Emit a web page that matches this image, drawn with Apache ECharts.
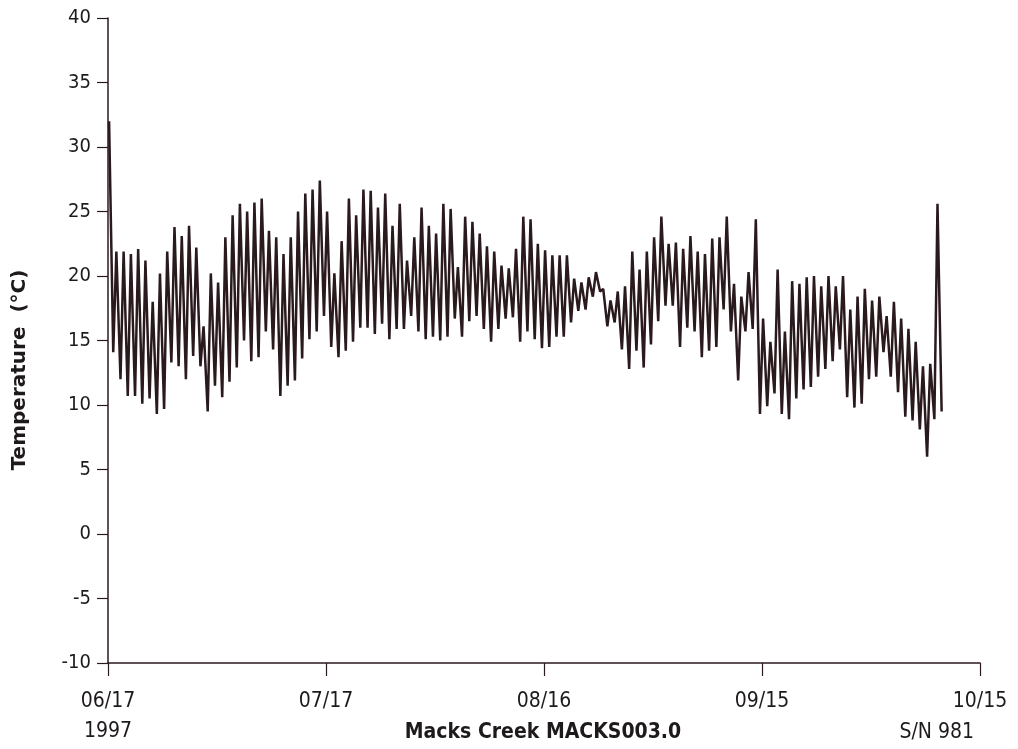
<!DOCTYPE html>
<html><head><meta charset="utf-8">
<script src="https://cdn.jsdelivr.net/npm/echarts@6/dist/echarts.min.js"></script>
<style>html,body{margin:0;padding:0;background:#fff}#c{width:1018px;height:749px}</style>
</head><body><div id="c"></div>
<script>
// x tick labels (every 30 days from 06/17/1997)
const xTickLabels = ["06/17", "07/17", "08/16", "09/15", "10/15"];
const yearLabel = "1997";
const siteLabel = "Macks Creek MACKS003.0";
const serialLabel = "S/N 981";
const yTitle = "Temperature  (\u00B0C)";

// daily maximum temperatures (°C), day 0 = 06/17
const dailyMax = [32.0,21.9,21.9,21.7,22.1,21.2,18.0,20.2,21.9,23.8,23.1,23.9,22.2,16.1,20.2,19.5,23.0,24.7,25.6,25.0,
25.7,26.0,23.5,23.0,21.7,23.0,25.0,26.4,26.7,27.4,25.0,20.2,22.7,26.0,24.7,26.7,26.6,25.3,26.4,23.9,
25.6,21.2,23.0,25.3,23.9,23.3,25.6,25.2,20.7,24.6,24.2,23.3,22.3,21.9,20.8,20.6,22.1,24.6,24.4,22.5,
22.0,21.6,21.6,21.6,19.8,19.5,19.9,20.3,19.0,18.1,18.8,19.2,21.9,20.5,21.9,23.0,24.6,22.5,22.6,22.1,
23.1,21.9,21.7,22.9,23.0,24.6,19.4,18.4,20.3,24.4,16.7,14.9,20.5,15.7,19.6,19.4,19.9,20.0,19.2,20.0,
19.2,20.0,17.4,18.4,19.0,18.1,18.4,16.9,18.0,16.7,15.9,14.9,13.0,13.2,25.6];
// daily minimum temperatures (°C)
const dailyMin = [14.1,12.0,10.7,10.7,10.1,10.5,9.3,9.7,13.3,13.0,12.0,13.8,13.0,9.5,11.5,10.6,11.8,12.9,15.0,13.4,
13.7,15.7,14.3,10.7,11.5,11.9,13.6,15.1,15.7,16.9,14.5,13.7,14.2,14.9,16.0,16.0,15.5,16.3,15.1,15.9,
15.9,16.9,15.7,15.1,15.3,15.0,15.3,16.7,15.3,16.5,16.9,15.9,14.9,15.9,16.7,16.8,14.9,15.7,15.1,14.4,
14.5,15.3,15.3,16.4,17.3,17.4,18.4,18.8,16.1,16.4,14.3,12.8,14.2,12.9,14.7,16.5,17.7,17.7,14.5,16.0,
15.7,13.7,14.2,14.5,17.4,15.7,11.9,15.7,15.9,9.3,9.9,10.9,9.3,8.9,10.5,11.2,11.4,12.2,12.8,13.4,
14.3,10.6,9.8,10.1,12.0,12.2,14.1,12.2,11.0,9.1,8.8,8.1,6.0,8.9,9.5];

const series = [];
for (let d = 0; d < dailyMax.length; d++) {
  series.push([d + 0.15, dailyMax[d]]);
  series.push([d + 0.72, dailyMin[d]]);
}

const ink = '#2a1a1e';
const txt = '#1e1a1c';
const fontNarrow = "'Liberation Sans Narrow','DejaVu Sans Condensed','Arial Narrow',sans-serif";
const chart = echarts.init(document.getElementById('c'), null, {renderer: 'canvas'});
chart.setOption({
  backgroundColor: '#ffffff',
  animation: false,
  grid: {left: 108, right: 38, top: 18, bottom: 86},
  xAxis: {
    type: 'value', min: 0, max: 120, interval: 30,
    splitLine: {show: false},
    axisLine: {show: true, onZero: false, lineStyle: {color: ink, width: 1.5}},
    axisTick: {show: true, length: 13, lineStyle: {color: ink, width: 1.2}},
    axisLabel: {
      color: txt, fontFamily: fontNarrow, fontSize: 21, margin: 24, lineHeight: 30,
      formatter: function (v) {
        const i = Math.round(v / 30);
        return i === 0 ? xTickLabels[i] + '\n' + yearLabel : xTickLabels[i];
      }
    }
  },
  yAxis: {
    type: 'value', min: -10, max: 40, interval: 5,
    splitLine: {show: false},
    axisLine: {show: true, lineStyle: {color: ink, width: 1.5}},
    axisTick: {show: true, length: 11, lineStyle: {color: ink, width: 1.2}},
    axisLabel: {color: txt, fontFamily: fontNarrow, fontSize: 20, margin: 17}
  },
  graphic: [
    {type: 'text', x: 20, y: 370, rotation: Math.PI / 2,
     style: {text: yTitle, fill: txt, font: "bold 20px 'DejaVu Sans',sans-serif",
              textAlign: 'center', textVerticalAlign: 'middle'}},
    {type: 'text', x: 543, y: 733,
     style: {text: siteLabel, fill: txt, font: "bold 21px " + fontNarrow,
              textAlign: 'center', textVerticalAlign: 'middle'}},
    {type: 'text', x: 974, y: 733,
     style: {text: serialLabel, fill: txt, font: "21px " + fontNarrow,
              textAlign: 'right', textVerticalAlign: 'middle'}}
  ],
  series: [{
    type: 'line', data: series, showSymbol: false,
    lineStyle: {color: ink, width: 2.5}, clip: true
  }]
});
</script></body></html>
